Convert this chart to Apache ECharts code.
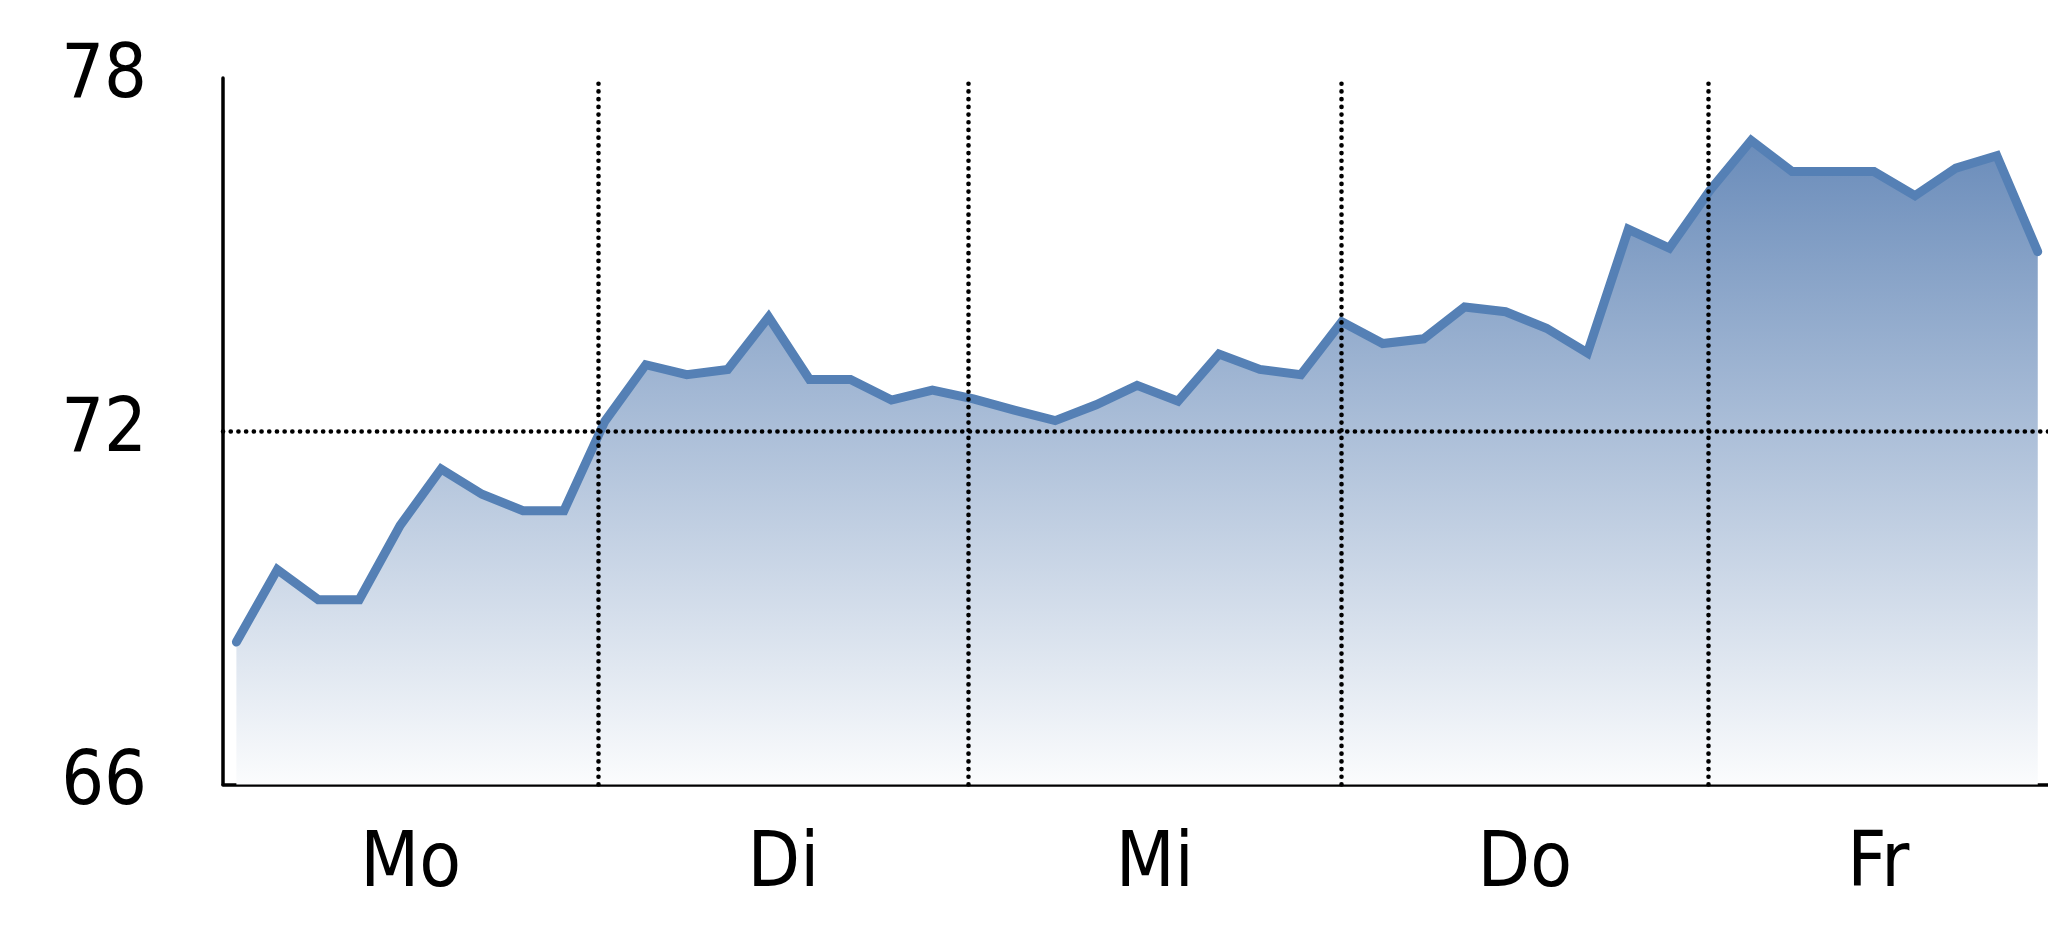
<!DOCTYPE html>
<html>
<head>
<meta charset="utf-8">
<script src="https://cdn.jsdelivr.net/npm/echarts@6/dist/echarts.min.js"></script>
<style>
html,body{margin:0;padding:0;background:#fff;}
#chart{width:2048px;height:937px;}
</style>
</head>
<body>
<div id="chart"></div>
<script>
// Values sampled at regular steps across the week (index = step number)
const values = [
  68.42, 69.65, 69.14, 69.14, 70.40, 71.36, 70.93, 70.65, 70.65,
  72.17, 73.13, 72.96, 73.05, 73.94, 72.88, 72.88, 72.53, 72.70,
  72.55, 72.36, 72.18, 72.45, 72.78, 72.51, 73.31, 73.05, 72.96,
  73.86, 73.49, 73.57, 74.11, 74.03, 73.75, 73.33, 75.43, 75.11,
  76.10, 76.94, 76.41, 76.41, 76.41, 76.00, 76.47, 76.68, 75.05
];
// Day names and the step positions where a new day starts
const dayNames = ['Mo', 'Di', 'Mi', 'Do', 'Fr'];
const dayBoundaries = [8.84, 17.88, 26.98, 35.96];
// Y axis ticks / reference line
const yTicks = [66, 72, 78];
const yRefLines = [72];
// Visible x range in step units
const xRange = [-0.327, 44.25];

const points = values.map((v, i) => [i, v]);
const edges = [xRange[0]].concat(dayBoundaries, [xRange[1]]);
const dayCenters = dayNames.map((_, i) => (edges[i] + edges[i + 1]) / 2);

const FONT = "'Liberation Sans Narrow', 'Arial Narrow', 'DejaVu Sans Condensed', sans-serif";
const dotted = { color: '#000', width: 4.6, type: [0.1, 7.6], cap: 'round' };

const chart = echarts.init(document.getElementById('chart'));
chart.setOption({
  animation: false,
  backgroundColor: '#fff',
  grid: { left: 223, right: 0, top: 78, bottom: 152.5, containLabel: false },
  xAxis: {
    type: 'value',
    min: xRange[0],
    max: xRange[1],
    axisLine: { show: true, onZero: false, lineStyle: { color: '#000', width: 3.5 } },
    axisTick: { show: false },
    splitLine: { show: false },
    axisLabel: {
      show: true,
      customValues: dayCenters,
      formatter: function (val) {
        let best = 0, bd = Infinity;
        dayCenters.forEach((c, i) => { const d = Math.abs(c - val); if (d < bd) { bd = d; best = i; } });
        return dayNames[best];
      },
      fontFamily: FONT,
      fontSize: 76,
      color: '#000',
      margin: 44
    }
  },
  yAxis: {
    type: 'value',
    min: yTicks[0],
    max: yTicks[yTicks.length - 1],
    interval: yTicks[1] - yTicks[0],
    axisLine: { show: true, onZero: false, lineStyle: { color: '#000', width: 3.5 } },
    axisTick: { show: false },
    splitLine: { show: false },
    axisLabel: {
      fontFamily: FONT,
      fontSize: 75,
      color: '#000',
      margin: 76
    }
  },
  series: [{
    type: 'line',
    data: points,
    symbol: 'none',
    clip: true,
    lineStyle: { color: '#5580b5', width: 9, cap: 'round', join: 'miter' },
    areaStyle: {
      opacity: 1,
      color: new echarts.graphic.LinearGradient(0, 0, 0, 1, [
        { offset: 0, color: '#6a8cba' },
        { offset: 1, color: '#fbfcfd' }
      ])
    },
    markLine: {
      silent: true,
      symbol: ['none', 'none'],
      label: { show: false },
      lineStyle: dotted,
      z: 5,
      data: dayBoundaries.map(b => ({ xAxis: b })).concat(yRefLines.map(v => ({ yAxis: v })))
    }
  }]
});
</script>
</body>
</html>
